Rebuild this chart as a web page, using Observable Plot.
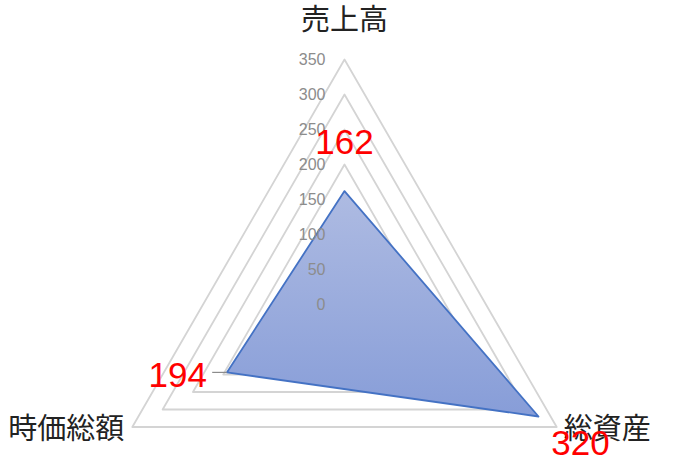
<!DOCTYPE html>
<html>
<head>
<meta charset="utf-8">
<script src="https://cdn.jsdelivr.net/npm/d3@7"></script>
<script src="https://cdn.jsdelivr.net/npm/@observablehq/plot@0.6"></script>
<style>
  html, body { margin: 0; padding: 0; background: #fff; }
  #chart svg { display: block; }
</style>
</head>
<body>
<div id="chart"></div>
<script>
const axisNames = ["売上高", "総資産", "時価総額"];
const values = [162, 320, 194];
const gridLevels = [50, 100, 150, 200, 250, 300, 350];
const tickLabels = [0, 50, 100, 150, 200, 250, 300, 350];
const maxValue = 350;

const angle = i => (i * 2 * Math.PI) / axisNames.length;
const px = (v, i) => v * Math.sin(angle(i));
const py = (v, i) => v * Math.cos(angle(i));

const gridData = gridLevels.flatMap(level =>
  axisNames.map((name, i) => ({level, x: px(level, i), y: py(level, i)}))
);
const seriesData = values.map((v, i) => ({name: axisNames[i], value: v, x: px(v, i), y: py(v, i)}));
const outer = axisNames.map((name, i) => ({name, x: px(maxValue, i), y: py(maxValue, i)}));

const jpFont = "'Noto Sans CJK JP', 'Noto Sans', sans-serif";
const numFont = "'Liberation Sans', Arial, sans-serif";

const defs = () => {
  const d = d3.create("svg:defs");
  const g = d.append("linearGradient").attr("id", "radarFill")
    .attr("x1", 0).attr("y1", 0).attr("x2", 0).attr("y2", 1);
  g.append("stop").attr("offset", "0%").attr("stop-color", "#aebbe2");
  g.append("stop").attr("offset", "100%").attr("stop-color", "#879dd8");
  return d.node();
};

const axisLabelPos = [
  {dx: 0, dy: -39, anchor: "middle"},
  {dx: 7, dy: 3, anchor: "start"},
  {dx: -8, dy: 3, anchor: "end"}
];
const valueLabelPos = [
  {dx: 0, dy: -48, anchor: "middle"},
  {dx: 42, dy: 27, anchor: "middle"},
  {dx: -20, dy: 3, anchor: "end"}
];

const chart = Plot.plot({
  width: 675,
  height: 463,
  margin: 0,
  x: {domain: [-maxValue, maxValue], range: [99, 589], axis: null},
  y: {domain: [-maxValue, maxValue], range: [549, 59], axis: null},
  style: {background: "#ffffff"},
  marks: [
    defs,
    Plot.line(gridData, {x: "x", y: "y", z: "level", curve: "linear-closed", stroke: "#d4d4d4", strokeWidth: 1.8}),
    Plot.line(seriesData, {x: "x", y: "y", curve: "linear-closed", fill: "url(#radarFill)", stroke: "#4472c4", strokeWidth: 1.8}),
    Plot.link([seriesData[2]], {x1: "x", y1: "y", x2: d => d.x - 21, y2: "y", stroke: "#8c8c8c", strokeWidth: 1.2}),
    Plot.text(tickLabels, {x: 0, y: d => d, text: d => String(d), textAnchor: "end", dx: -19, fill: "#8c8c8c", fontSize: 16, fontFamily: numFont}),
    ...outer.map((d, i) => Plot.text([d], {x: "x", y: "y", text: "name", textAnchor: axisLabelPos[i].anchor, dx: axisLabelPos[i].dx, dy: axisLabelPos[i].dy, fill: "#222", fontSize: 29, fontFamily: jpFont})),
    ...seriesData.map((d, i) => Plot.text([d], {x: "x", y: "y", text: d => String(d.value), textAnchor: valueLabelPos[i].anchor, dx: valueLabelPos[i].dx, dy: valueLabelPos[i].dy, fill: "#ff0000", fontSize: 35, fontFamily: numFont}))
  ]
});
document.getElementById("chart").appendChild(chart);
</script>
</body>
</html>
